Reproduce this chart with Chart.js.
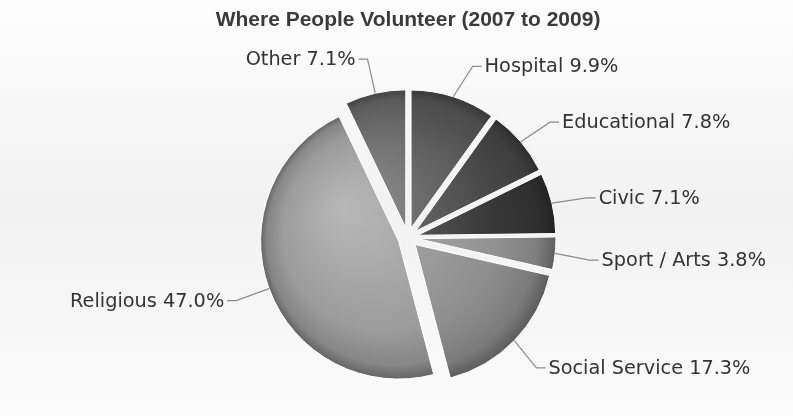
<!DOCTYPE html>
<html>
<head>
<meta charset="utf-8">
<title>Where People Volunteer (2007 to 2009)</title>
<script src="https://cdn.jsdelivr.net/npm/chart.js@4.4.1/dist/chart.umd.min.js"></script>
<style>
  html, body { margin: 0; padding: 0; background: #ffffff; }
  #wrap { position: relative; width: 793px; height: 416px; }
</style>
</head>
<body>
<div id="wrap"><canvas id="chart"></canvas></div>
<script>
// Share of volunteers by main organisation type, 2007 to 2009 (percent)
const categories = ['Hospital', 'Educational', 'Civic', 'Sport / Arts', 'Social Service', 'Religious', 'Other'];
const shares = [9.9, 7.8, 7.1, 3.8, 17.3, 47.0, 7.1];
const sliceColors = ['#575757', '#484848', '#373737', '#929292', '#8f8f8f', '#9c9c9c', '#686868'];

const TITLE = 'Where People Volunteer (2007 to 2009)';
const SLICE_OFFSET = 10;          // every slice is pulled out of the centre
const LABEL_DISTANCE = 35;        // from slice rim to connector elbow
const LABEL_DROP = { right: 3, left: 0 }; // right-hand labels sit slightly lower
const HIGHLIGHT = { x: -0.49, y: -0.23 }; // light spot, as a fraction of the radius

function shade(hex, amt) {
  const n = parseInt(hex.slice(1), 16);
  const ch = [(n >> 16) & 255, (n >> 8) & 255, n & 255].map(v => {
    const t = amt >= 0 ? v + (255 - v) * amt : v * (1 + amt);
    return Math.max(0, Math.min(255, Math.round(t)));
  });
  return 'rgb(' + ch.join(',') + ')';
}

// soft vertical wash behind the chart
const backdrop = {
  id: 'backdrop',
  beforeDraw(chart) {
    const { ctx, width, height } = chart;
    const g = ctx.createLinearGradient(0, 0, 0, height);
    g.addColorStop(0, '#fdfdfd');
    g.addColorStop(0.5, '#f2f2f2');
    g.addColorStop(1, '#fbfbfb');
    ctx.save();
    ctx.fillStyle = g;
    ctx.fillRect(0, 0, width, height);
    ctx.restore();
  }
};

// draws each arc shifted outwards along its middle angle, with a shaded fill
const slicedPie = {
  id: 'slicedPie',
  beforeDatasetDraw(chart, args) {
    const ctx = chart.ctx;
    const arcs = args.meta.data;
    arcs.forEach((arc, i) => {
      const mid = (arc.startAngle + arc.endAngle) / 2;
      const dx = Math.cos(mid) * SLICE_OFFSET;
      const dy = Math.sin(mid) * SLICE_OFFSET;
      const r = arc.outerRadius;
      const hx = arc.x + HIGHLIGHT.x * r - dx;
      const hy = arc.y + HIGHLIGHT.y * r - dy;
      const base = sliceColors[i];
      const g = ctx.createRadialGradient(hx, hy, 0, arc.x, arc.y, r);
      g.addColorStop(0, shade(base, 0.28));
      g.addColorStop(0.72, base);
      g.addColorStop(0.92, shade(base, -0.14));
      g.addColorStop(1, shade(base, -0.36));
      const view = Object.create(arc);
      view.options = Object.assign({}, arc.options, { backgroundColor: g, offset: 0 });
      ctx.save();
      ctx.translate(dx, dy);
      view.draw(ctx);
      ctx.restore();
    });
    return false;
  }
};

// outside labels joined to their slices by a bent connector
const sliceLabels = {
  id: 'sliceLabels',
  afterDatasetsDraw(chart) {
    const ctx = chart.ctx;
    const meta = chart.getDatasetMeta(0);
    const values = chart.data.datasets[0].data;
    ctx.save();
    ctx.font = '19.3px "DejaVu Sans", Verdana, sans-serif';
    ctx.textBaseline = 'middle';
    meta.data.forEach((arc, i) => {
      const mid = (arc.startAngle + arc.endAngle) / 2;
      const c = Math.cos(mid), s = Math.sin(mid);
      const r = arc.outerRadius;
      // rim point of the pulled-out slice
      const ex = arc.x + c * (SLICE_OFFSET + r);
      const ey = arc.y + s * (SLICE_OFFSET + r);
      // elbow lies on a ring around the pie, x follows from y
      const R = r + SLICE_OFFSET + LABEL_DISTANCE;
      const side = c >= 0 ? 1 : -1;
      const by = arc.y + s * R + (side > 0 ? LABEL_DROP.right : LABEL_DROP.left);
      const rel = Math.min(Math.abs(by - arc.y), R);
      const bx = arc.x + side * Math.sqrt(R * R - rel * rel);
      ctx.strokeStyle = '#8c8c8c';
      ctx.lineWidth = 1.2;
      ctx.beginPath();
      ctx.moveTo(bx + side * 9, by);
      ctx.lineTo(bx, by);
      ctx.lineTo(ex, ey);
      ctx.stroke();
      ctx.fillStyle = '#333333';
      ctx.textAlign = side > 0 ? 'left' : 'right';
      ctx.fillText(chart.data.labels[i] + ' ' + values[i].toFixed(1) + '%', bx + side * 12, by + 1);
    });
    ctx.restore();
  }
};

new Chart(document.getElementById('chart'), {
  type: 'pie',
  data: {
    labels: categories,
    datasets: [{
      data: shares,
      backgroundColor: sliceColors,
      borderColor: '#ffffff',
      borderWidth: 1,
      radius: 138
    }]
  },
  options: {
    responsive: true,
    maintainAspectRatio: false,
    animation: false,
    layout: { padding: { left: 23, right: 0, top: 0, bottom: 0 } },
    plugins: {
      legend: { display: false },
      tooltip: { enabled: false },
      title: {
        display: true,
        text: TITLE,
        color: '#3a3a3a',
        font: { family: '"Liberation Sans", Arial, sans-serif', size: 21, weight: 'bold', lineHeight: 1.2 },
        padding: { top: 8, bottom: 26 }
      }
    }
  },
  plugins: [backdrop, slicedPie, sliceLabels]
});
</script>
</body>
</html>
